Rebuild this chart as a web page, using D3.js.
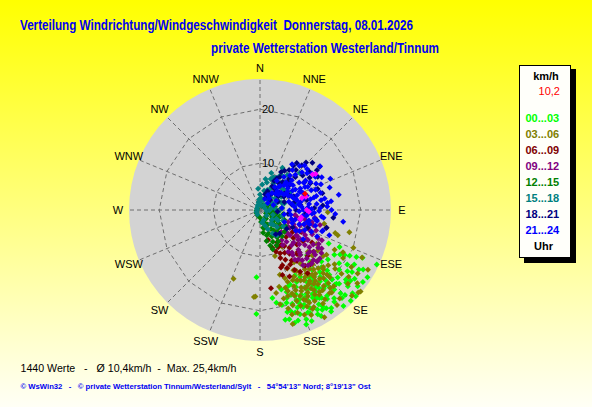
<!DOCTYPE html>
<html>
<head>
<meta charset="utf-8">
<script src="https://cdn.jsdelivr.net/npm/d3@7"></script>
<style>
  html, body { margin: 0; padding: 0; overflow: hidden; }
  svg { display: block; font-family: "Liberation Sans", Arial, sans-serif; }
  svg text { white-space: pre; }
</style>
</head>
<body>
<div id="chart"></div>
<script>
// directions (compass labels) and speed rings
const directions = ["N","NNE","NE","ENE","E","ESE","SE","SSE","S","SSW","SW","WSW","W","WNW","NW","NNW"]
const ringValues = [10, 20]
const speedMin = 1.35
const speedMax = 25.6

// legend: hour bands and their colours
const hourBands = ["00...03","03...06","06...09","09...12","12...15","15...18","18...21","21...24"]
const bandColors = ["#00ff00","#808000","#800000","#800080","#008000","#008080","#000080","#0000ff"]
const currentSpeed = "10,2"

// readings per band: [direction in degrees, speed km/h]
const band0003 = [[115,25.2],[115,22.3],[183,13.8],[182,20.6],[163,23.2],[116,15.5],[115,17.6],[138,12.5],[136,14.7],[167,22.2],[118,19.1],[117,20.0],[116,21.2],[125,21.1],[136,22.8],[148,23.1],[155,22.3],[170,18.8],[172,17.8],[162,17.3],[146,23.3],[132,24.4],[128,24.3],
  [130,16.2],[132,18.1],[134,19.9],[136,17.3],[138,20.6],[140,18.6],[142,21.5],[144,16.8],[146,19.6],[148,21.9],[150,17.9],[152,20.4],[154,18.8],[156,21.0],[158,19.3],[160,16.4],[140,22.7],[150,22.6],[144,19.0],
  [127,19.7],[129,21.8],[131,22.9],[133,16.9],[135,20.9],[137,19.2],[139,16.0],[141,20.1],[143,22.0],[145,18.2],[147,20.7],[149,15.8],[151,19.1],[153,21.7],[155,17.1],[157,20.2],[159,22.0],[161,19.7],[163,18.4],[165,20.9],[167,19.4],
  [120,23.4],[122,24.8],[124,19.0],[126,16.9],[121,17.4],[123,14.4],[128,14.0],[134,13.5],[142,14.4],[152,15.1],[158,16.2],[165,16.6],[145,24.3],[139,24.9],[135,25.1],[155,24.0],
  [147,17.2],[143,17.7],[137,23.6],[133,21.4],[157,23.3],[161,21.4],[153,16.3],[149,18.5],
  [131,20.4],[133,18.9],[135,23.6],[137,21.5],[139,19.8],[141,23.2],[143,19.4],[145,21.2],[147,22.6],[149,20.3],[151,23.4],[153,19.6],[155,20.7],[157,18.3],[159,20.7],[161,23.0],[163,21.0],[165,22.3],[130,22.2],[134,21.0],
  [138,18.0],[142,17.0],[146,21.0],[150,24.0],[154,22.6],[158,24.2],[126,23.0],[124,21.9],[122,20.4],[120,21.5],[119,18.3],[121,22.7],[128,22.6],[125,24.6],[132,25.2],[144,23.8],[148,19.7],[156,19.4],[160,18.1],[164,19.2]]
const band0306 = [[201,15.0],[184,17.5],[183,17.4],[104,18.4],[102,13.5],[92,13.9],[129,25.3],[162,10.3],[164,23.3],[160,21.6],[107,15.9],[117,18.6],[115,22.2],[130,25.1],
  [118,17.0],[120,19.1],[122,21.3],[124,16.2],[126,18.4],[128,20.5],[130,22.6],[132,17.1],[134,19.3],[136,21.0],[138,23.4],[140,15.6],[142,18.0],[144,20.1],[146,22.2],[148,16.7],[150,19.0],[152,20.8],[154,23.0],[156,17.6],[158,19.5],[160,14.8],[162,18.1],[164,20.3],[166,16.0],[168,19.2],
  [121,13.6],[125,14.4],[131,13.1],[135,14.9],[139,12.5],[143,13.8],[147,12.9],[149,9.3],[151,14.1],[155,13.3],[159,15.6],[163,13.9],
  [119,24.2],[127,23.9],[133,24.6],[141,24.0],[149,24.5],[157,22.4],[123,22.9],[137,18.6],[145,17.4],[153,18.2],[161,20.0],[169,17.0],[112,20.0],[108,16.5],
  [126,15.8],[129,17.6],[132,15.5],[135,17.9],[138,16.2],[141,17.3],[144,15.9],[147,18.7],[150,16.4],[153,15.2],[156,16.8],[159,17.9],[162,16.5],[165,18.3],[128,19.0],
  [134,18.6],[140,19.7],[146,19.2],[152,17.6],[158,18.5],[131,14.2],[137,15.0],[143,16.4],[149,14.5],[155,15.7],[161,17.2],[127,21.9],[139,21.6],[151,21.9],[163,21.6],
  [136,15.4],[139,17.0],[142,18.8],[145,20.5],[148,17.9],[151,19.6],[154,21.2],[137,19.9],[140,21.4],[143,15.1],[146,16.3],[149,21.0],[152,16.0],[155,18.9],[138,20.8],
  [141,16.7],[144,18.3],[147,20.0],[150,18.1],[153,20.1],[135,16.6],[144,21.8],[148,15.4],[139,18.2],[152,22.1],[157,20.6],[142,20.2],[133,17.4],[146,17.7],[154,19.8]]
const band0609 = [[162,8.7],[154,9.0],[155,13.2],[150,14.2],[172,16.0],[157,11.0],[165,7.1],[161,14.1],[105,14.1],[150,10.5],
  [148,12.4],[152,8.1],[146,9.4],[144,13.0],[158,12.4],[153,11.7],[147,15.0],[142,10.2],[138,11.8],[134,13.6],
  [130,9.4],[126,11.2],[122,12.7],[118,10.0],[136,8.3],[141,14.6],[145,7.2],[149,8.9],[156,14.8],[151,12.9],
  [159,9.6],[143,16.0],[137,15.1],[133,10.7],[128,13.9],[124,8.6],[140,12.0],[146,11.1],[155,10.2],[160,12.7]]
const band0912 = [[135,4.5],[127,6.0],[113,7.0],[98,7.9],[96,9.7],[98,11.6],[104,12.8],[111,9.3],[112,11.3],[116,13.3],
  [122,14.8],[129,15.6],[136,15.1],[142,14.3],[145,12.6],[146,10.7],[144,8.2],[144,6.4],[130,8.6],[128,10.3],
  [128,11.9],[130,13.4],[138,12.5],[138,10.1],[131,7.5],[117,8.6],[119,10.9],[123,13.1],[129,14.5],[136,13.8],
  [136,11.6],[117,10.3],[103,11.2],[104,9.0],[121,7.8],[147,9.1],[144,11.7],[132,15.6],[122,11.8],[125,9.5],
  [100,8.2],[108,10.1],[115,12.0],[120,13.9],[125,15.2],[133,14.9],[140,13.5],[143,11.2],[140,9.0],[136,7.0],
  [130,8.1],[125,9.8],[122,11.5],[127,12.8],[132,13.3],[137,12.1],[131,11.0],[126,10.6],[119,9.2],[113,8.1],
  [110,12.4],[106,11.6],[102,9.9],[116,14.1],[123,14.2],[134,10.0],[142,12.9],[139,14.9],[128,14.0],[121,7.4]]
const band1215 = [[170,4.7],[158,7.7],[165,6.2],[150,5.4],[140,4.8],[130,4.2],[120,3.9],[110,3.5],[100,3.2],[90,2.9],[80,2.6],[70,2.4],[60,2.7],[175,3.6],[160,3.9],[145,3.3],[135,6.1],[125,5.5],[115,5.0],[105,4.4],[95,4.0],[85,3.7],
  [155,8.6],[148,7.3],[162,9.0],[168,7.2],[142,6.6],[132,7.4],[122,6.9],[112,6.2],[100,5.7],[88,5.1],[200,2.5],[230,2.2],[260,2.0],[300,1.9],[180,2.8],[152,4.4],[138,3.0],[118,2.6],
  [172,5.6],[166,4.8],[156,6.7],[146,5.9],[136,5.1],[126,4.6],[116,4.1],[106,3.7],[96,3.4],[164,8.2],[150,8.1],[140,7.7],[128,6.4],[108,5.2],[94,4.8],[78,4.2],[65,3.6],[55,3.0],[45,2.6],[35,2.4],[20,2.2],[160,6.0]]
const band1518 = [[17,8.5],[30,8.6],[47,11.4],[10,7.2],[22,7.9],[38,9.6],[5,6.1],[355,5.3],[0,4.2],[12,5.0],[25,5.6],[35,6.4],[45,5.9],[55,6.8],[65,5.2],[75,6.0],[85,5.5],[95,4.8],[105,5.6],[115,6.1],[125,6.6],[135,5.8],[146,7.0],[149,6.7],
  [8,3.0],[20,3.4],[33,3.8],[50,3.2],[62,4.0],[78,3.6],[92,3.1],[110,3.9],[128,4.2],[142,4.6],[158,5.2],[350,2.8],[340,2.4],[15,2.2],[40,2.5],[70,2.3],[100,2.6],[130,2.9],[160,3.3],[60,7.8],[80,8.1],[28,10.2],
  [14,6.6],[19,7.4],[26,8.0],[33,8.9],[42,8.3],[50,7.2],[27,6.9],[37,7.6],[20,5.3],[30,4.9],[40,4.4],[52,4.9],[68,4.6],[88,4.3],[118,4.8],[138,5.0],[152,6.3],[162,4.4],[5,3.6],[355,3.3],
  [330,2.2],[300,2.0],[270,1.9],[240,2.1],[210,2.3],[45,7.0],[58,6.0],[72,5.6],[120,5.2],[170,3.7]]
const band1821 = [[22,5.1],[27,6.3],[31,8.5],[35,7.4],[38,12.4],[40,7.6],[43,9.2],[44,13.6],[47,10.3],[50,8.3],[54,15.0],[55,14.2],[58,11.0],[62,11.9],[66,9.6],[70,12.7],[75,13.3],[78,10.2],[83,8.9],[88,11.4],[94,9.9],[100,12.0],[105,14.1],[110,10.8],
  [25,3.9],[33,4.6],[41,5.5],[48,6.2],[56,6.8],[64,7.4],[72,6.1],[80,7.3],[90,8.0],[98,6.6],[108,7.7],[118,8.2],[125,7.4],[140,7.0],[147,6.7],
  [29,9.4],[36,10.5],[42,11.3],[52,12.9],[60,13.7],[68,8.1],[86,13.0],[96,15.0],[18,4.4],[46,4.0],[65,5.0],[95,4.6],
  [26,7.3],[32,9.9],[37,11.6],[43,12.7],[48,14.4],[34,6.1],[39,8.0],[45,8.9],[51,11.5],[57,12.3],[28,8.0],[36,5.2],[53,5.6],[61,6.4],[77,7.9]]
const band2124 = [[28,4.5],[35,5.2],[42,6.1],[50,5.8],[57,6.6],[63,7.2],[70,7.9],[75,8.4],[80,7.4],[86,9.1],[92,8.6],[98,9.3],[105,8.1],[112,7.8],[118,9.6],[124,11.0],
  [30,7.6],[36,8.9],[41,9.8],[45,10.6],[48,11.8],[52,12.4],[55,13.1],[58,10.9],[61,12.0],[64,11.2],[67,13.6],[70,12.3],[73,10.4],[77,11.6],[81,12.8],[84,13.9],[88,12.5],[93,11.4],[97,13.2],[101,12.1],[106,10.9],[109,13.5],[113,11.7],
  [40,7.2],[46,8.1],[53,9.0],[59,8.4],[65,9.5],[71,10.1],[76,9.7],[83,10.5],[89,10.9],[95,10.2],[102,10.6],[108,9.9],
  [33,6.4],[39,6.9],[44,7.7],[49,8.7],[56,7.5],[62,9.8],[68,8.8],[74,6.9],[79,9.0],[85,7.8],[91,6.8],[99,7.1],
  [54,15.1],[79,16.2],[98,16.9],[87,13.8],[108,13.6],[62,14.3],[72,14.9],[93,15.3],[45,13.0],[66,15.6],
  [24,3.6],[38,4.1],[60,4.8],[85,5.4],[100,5.9],[116,6.4],[48,3.3],[70,4.0],[115,13.0],[120,9.0],[110,15.0],[90,14.6],
  [44,5.5],[51,6.4],[58,7.1],[66,7.7],[73,8.3],[82,8.6],[90,9.4],[97,10.0],[104,10.4],[110,9.1],[47,9.4],[55,10.2],[63,10.7],[69,11.5],[76,12.1],[84,11.9],[91,12.3],[99,11.6],[106,12.0],[52,7.9],
  [60,8.9],[68,9.9],[78,10.9],[87,10.2],[94,11.0],[103,9.0],[43,8.4],[57,11.4],[65,12.8],[74,13.0],[80,13.5],[39,10.9],[49,12.9],[106,7.4],[114,10.4],[35,11.7],[42,12.3],[59,13.3],[83,14.6],[96,12.8]]
const bands = [band0003, band0306, band0609, band0912, band1215, band1518, band1821, band2124]
const highlighted = [[56,13.1],[57,13.6],[74,10.2],[74,9.4],[90,10.0],[92,10.4],[100,9.1],[103,9.0]]
const current = [[70,10.2]]

const W = 592, H = 407
const cx = 260, cy = 210, outerR = 131

const svg = d3.select("#chart").append("svg")
  .attr("width", W).attr("height", H)

const defs = svg.append("defs")
const grad = defs.append("linearGradient").attr("id", "bg")
  .attr("x1", 0).attr("y1", 0).attr("x2", 0).attr("y2", 1)
grad.append("stop").attr("offset", "0%").attr("stop-color", "#ffff00")
grad.append("stop").attr("offset", "100%").attr("stop-color", "#fffff6")

svg.append("rect").attr("width", W).attr("height", H).attr("fill", "url(#bg)")

// titles
svg.append("text")
  .attr("x", 20).attr("y", 30)
  .attr("font-size", "14px").attr("font-weight", "700").attr("fill", "#0000f0")
  .attr("textLength", 393).attr("lengthAdjust", "spacingAndGlyphs")
  .text("Verteilung Windrichtung/Windgeschwindigkeit  Donnerstag, 08.01.2026")

svg.append("text")
  .attr("x", 211).attr("y", 53)
  .attr("font-size", "14px").attr("font-weight", "700").attr("fill", "#0000f0")
  .attr("textLength", 228).attr("lengthAdjust", "spacingAndGlyphs")
  .text("private Wetterstation Westerland/Tinnum")

// scales
const r = d3.scaleLinear().domain([speedMin, speedMax]).range([0, outerR]).clamp(true)
const ang = d3.scaleLinear().domain([0, 360]).range([0, 2 * Math.PI])
const px = (deg, s) => cx + r(s) * Math.sin(ang(deg))
const py = (deg, s) => cy - r(s) * Math.cos(ang(deg))

const plot = svg.append("g")

plot.append("circle")
  .attr("cx", cx).attr("cy", cy).attr("r", outerR)
  .attr("fill", "#d3d3d3")

// spokes
const dirAngles = directions.map((d, i) => i * 22.5)
plot.selectAll(".spoke").data(dirAngles).enter().append("line")
  .attr("x1", cx).attr("y1", cy)
  .attr("x2", d => px(d, speedMax)).attr("y2", d => py(d, speedMax))
  .attr("stroke", "#6e6e6e").attr("stroke-width", 1).attr("stroke-dasharray", "4,3")

// rings as 16-gons
const ringLine = d3.lineRadial().curve(d3.curveLinearClosed)
ringValues.forEach(v => {
  plot.append("path")
    .attr("transform", `translate(${cx},${cy})`)
    .attr("d", ringLine(dirAngles.map(a => [ang(a), r(v)])))
    .attr("fill", "none")
    .attr("stroke", "#6e6e6e").attr("stroke-width", 1).attr("stroke-dasharray", "4,3")
})

// points
const diamond = "M0,-3L3,0L0,3L-3,0Z"
function drawPoints(data, color) {
  plot.append("g").selectAll("path").data(data).enter().append("path")
    .attr("d", diamond)
    .attr("transform", d => `translate(${px(d[0], d[1])},${py(d[0], d[1])})`)
    .attr("fill", color)
}
bands.forEach((b, i) => drawPoints(b, bandColors[i]))
drawPoints(highlighted, "#ff00ff")
drawPoints(current, "#ff0000")

// ring labels
plot.selectAll(".ringlbl").data(ringValues).enter().append("text")
  .attr("x", cx + 2).attr("y", d => cy - r(d))
  .attr("dy", "0.35em")
  .attr("font-size", "11px").attr("fill", "#000")
  .text(d => d)

// compass labels
svg.selectAll(".dir").data(directions).enter().append("text")
  .attr("x", (d, i) => cx + 142 * Math.sin(ang(i * 22.5)))
  .attr("y", (d, i) => cy - 142 * Math.cos(ang(i * 22.5)))
  .attr("dy", "0.35em")
  .attr("text-anchor", "middle")
  .attr("font-size", "11px").attr("fill", "#000")
  .text(d => d)

// legend box
const lg = svg.append("g")
lg.append("rect").attr("x", 524).attr("y", 69).attr("width", 52).attr("height", 194).attr("fill", "#000")
lg.append("rect").attr("x", 519.5).attr("y", 65.5).attr("width", 51).attr("height", 192)
  .attr("fill", "#fffffa").attr("stroke", "#000").attr("stroke-width", 1)
lg.append("text").attr("x", 546).attr("y", 80).attr("text-anchor", "middle")
  .attr("font-size", "11px").attr("font-weight", "700").text("km/h")
lg.append("text").attr("x", 560).attr("y", 94.5).attr("text-anchor", "end")
  .attr("font-size", "11px").attr("fill", "#ff0000").text(currentSpeed)
lg.selectAll(".band").data(hourBands).enter().append("text")
  .attr("x", 525.5).attr("y", (d, i) => 121.5 + i * 16.1)
  .attr("font-size", "11px").attr("font-weight", "700")
  .attr("fill", (d, i) => bandColors[i])
  .text(d => d)
lg.append("text").attr("x", 543.5).attr("y", 250).attr("text-anchor", "middle")
  .attr("font-size", "11px").attr("font-weight", "700").text("Uhr")

// footer
svg.append("text")
  .attr("x", 20.5).attr("y", 372)
  .attr("font-size", "11px").attr("fill", "#000")
  .attr("textLength", 216).attr("lengthAdjust", "spacingAndGlyphs")
  .text("1440 Werte   -   Ø 10,4km/h  -  Max. 25,4km/h")

svg.append("text")
  .attr("x", 20.5).attr("y", 389)
  .attr("font-size", "8px").attr("font-weight", "700").attr("fill", "#0000f0")
  .attr("textLength", 350).attr("lengthAdjust", "spacingAndGlyphs")
  .text("© WsWin32   -   © private Wetterstation Tinnum/Westerland/Sylt   -   54°54'13\" Nord; 8°19'13\" Ost")
</script>
</body>
</html>
